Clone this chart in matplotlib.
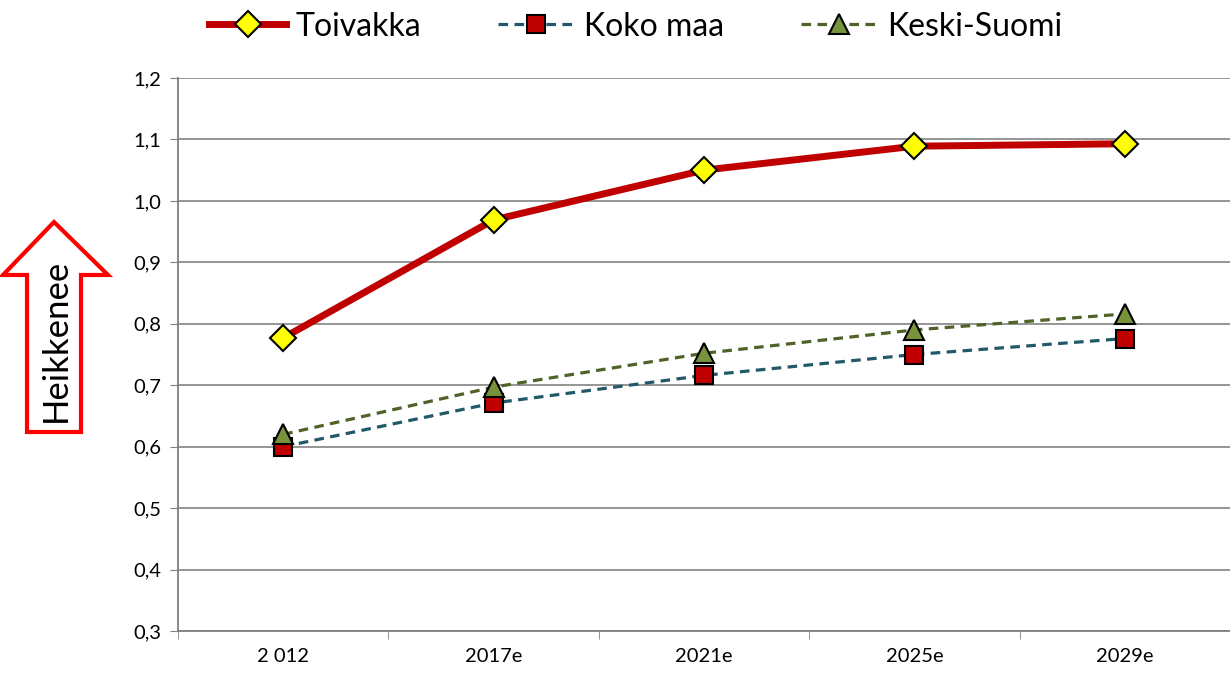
import matplotlib.pyplot as plt
from matplotlib.patches import Polygon

years = ["2 012", "2017e", "2021e", "2025e", "2029e"]
toivakka = [0.777, 0.969, 1.050, 1.089, 1.093]
koko_maa = [0.600, 0.671, 0.716, 0.750, 0.776]
keski_suomi = [0.620, 0.697, 0.752, 0.790, 0.816]
yticks = [0.3, 0.4, 0.5, 0.6, 0.7, 0.8, 0.9, 1.0, 1.1, 1.2]

plt.rcParams["font.family"] = ["Lato", "DejaVu Sans"]

fig = plt.figure(figsize=(12.3, 6.85), dpi=100)
ax = fig.add_axes([178 / 1230, 1 - 631 / 685, 1 - 178 / 1230, (631 - 78) / 685])

x = list(range(len(years)))
ax.plot(x, koko_maa, color="#215968", lw=2.3, ls=(0, (3, 2)), marker="s", ms=13,
        mfc="#C00000", mec="black", mew=1.5, label="Koko maa", zorder=3)
ax.plot(x, keski_suomi, color="#4F6228", lw=2.3, ls=(0, (3, 2)), marker="^", ms=15,
        mfc="#77933C", mec="black", mew=1.5, label="Keski-Suomi", zorder=4)
ax.plot(x, toivakka, color="#C00000", lw=5, marker="D", ms=13,
        mfc="#FFFF00", mec="black", mew=1.5, label="Toivakka", zorder=5)

ax.set_xlim(-0.5, 4.5)
ax.set_ylim(0.3, 1.2)
ax.set_yticks(yticks)
ax.set_yticklabels([f"{v:.1f}".replace(".", ",") for v in yticks], fontsize=14.5)
ax.set_xticks(x)
ax.set_xticklabels(years, fontsize=14.5)
ax.set_xticks([i - 0.5 for i in range(len(years) + 1)], minor=True)
ax.tick_params(axis="x", which="major", length=0, pad=12)
ax.tick_params(axis="x", which="minor", length=6, color="#808080", direction="out")
ax.tick_params(axis="y", length=6, color="#808080", direction="out", pad=6)
ax.grid(axis="y", color="#8C8C8C", lw=1.3)
ax.set_axisbelow(True)
for side in ["top", "right"]:
    ax.spines[side].set_visible(False)
for side in ["left", "bottom"]:
    ax.spines[side].set_color("#808080")
    ax.spines[side].set_linewidth(1.3)

handles, labels = ax.get_legend_handles_labels()
order = [2, 0, 1]
fig.legend([handles[i] for i in order], [labels[i] for i in order], loc="upper center",
           bbox_to_anchor=(0.517, 1.025), ncol=3, frameon=False, fontsize=23,
           handlelength=2.4, columnspacing=2.4, handletextpad=0.3)

# up arrow on the left
W, H = 1230, 685
pts = [(27, 432), (81, 432), (81, 275), (108, 275), (54, 222), (3, 275), (27, 275)]
arrow = Polygon([(px / W, 1 - py / H) for px, py in pts], closed=True,
                transform=fig.transFigure, facecolor="white", edgecolor="#FF0000", lw=3)
fig.patches.append(arrow)
fig.text(56 / W, 1 - 340 / H, "Heikkenee", rotation=90, ha="center", va="center", fontsize=25)

fig.savefig("out.png", dpi=100)
